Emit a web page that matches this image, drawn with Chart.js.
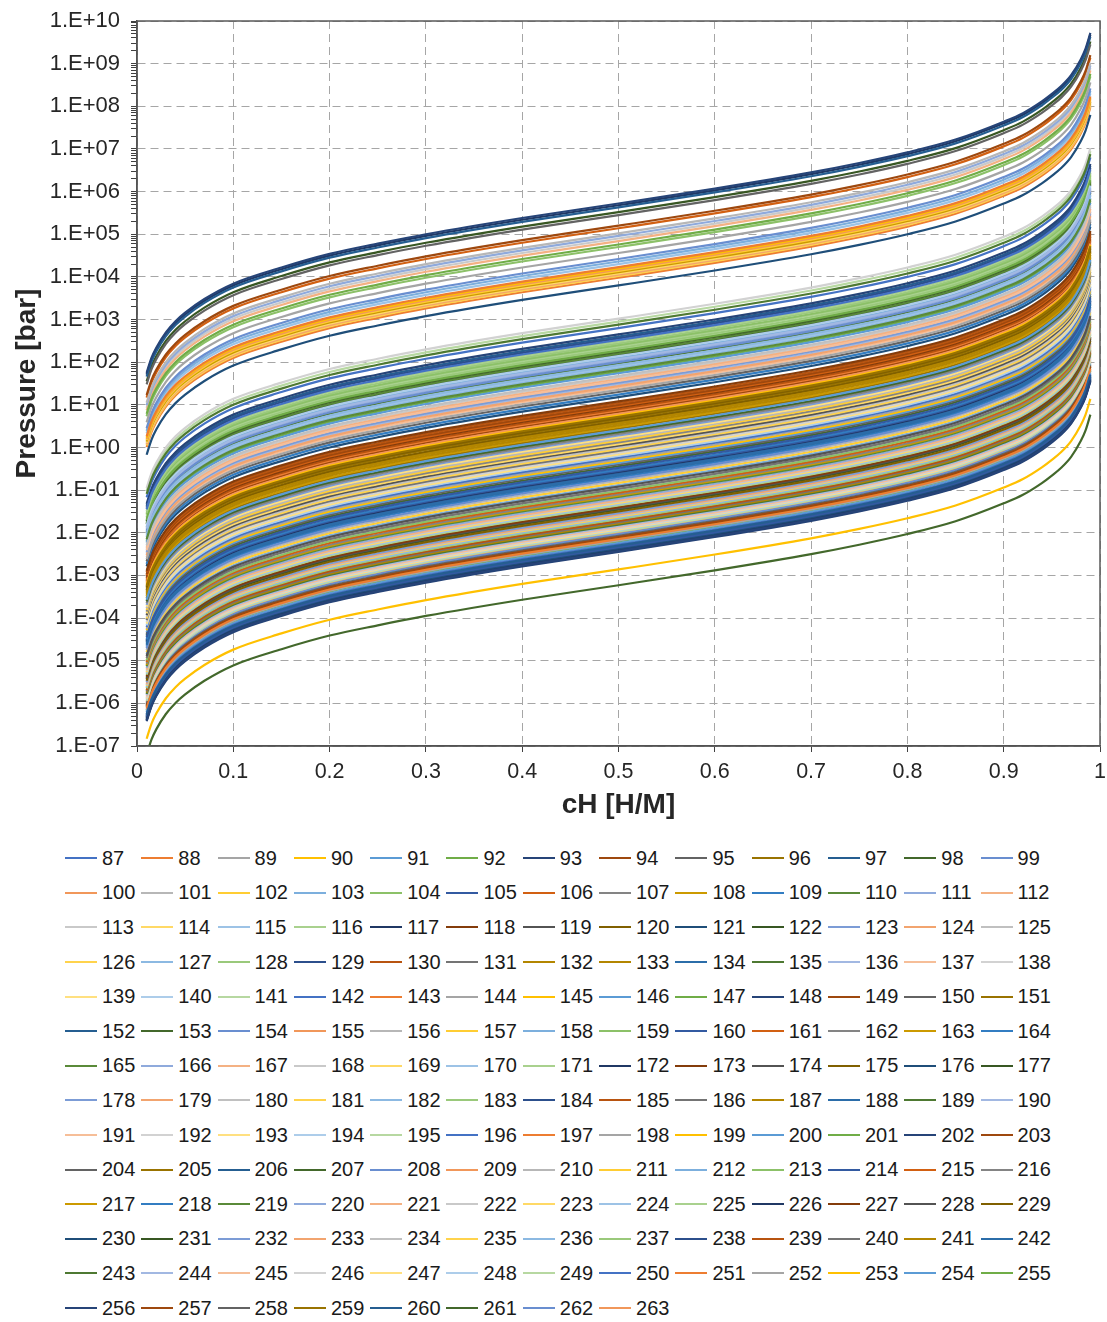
<!DOCTYPE html>
<html>
<head>
<meta charset="utf-8">
<title>PCT isotherms</title>
<script src="https://cdn.jsdelivr.net/npm/chart.js@4.4.1/dist/chart.umd.min.js"></script>
<style>
  body { margin: 0; background: #fff; font-family: "Liberation Sans", Arial, sans-serif; }
  #wrap { position: relative; width: 1107px; height: 830px; }
  #legend {
    position: absolute; left: 65px; top: 841px;
    display: grid; grid-template-columns: repeat(13, 76.3px); grid-auto-rows: 34.6px;
  }
  .item { display: flex; align-items: center; font-size: 20px; color: #1a1a1a; white-space: nowrap; }
  .item .ln { display: inline-block; width: 32px; height: 2px; margin-right: 5px; }
</style>
</head>
<body>
<div id="wrap"><canvas id="chartPCT" width="1107" height="830"></canvas></div>
<div id="legend"></div>
<script>
// hydrogen concentration where every curve is sampled
const cH = [0.01, 0.015, 0.02, 0.03, 0.04, 0.05, 0.07, 0.1, 0.15, 0.2, 0.25, 0.3, 0.4,
            0.5, 0.6, 0.7, 0.75, 0.8, 0.85, 0.9, 0.92, 0.94, 0.95, 0.96, 0.97, 0.98, 0.985, 0.99];

// shape of an isotherm: log10(P) relative to its value at cH = 0.5
const curveShape = [-3.97, -3.62, -3.38, -3.02, -2.76, -2.56, -2.24, -1.88, -1.5, -1.18, -0.94, -0.72, -0.34,
                    0, 0.35, 0.73, 0.95, 1.2, 1.5, 1.92, 2.12, 2.4, 2.57, 2.76, 3.01, 3.38, 3.63, 4.0];

// series names 87 ... 263
const seriesIds = [];
for (let n = 87; n <= 263; n++) seriesIds.push(n);

// log10 of pressure [bar] at cH = 0.5 for each series (same order as seriesIds)
const logP50 = [
   2.52,  4.23,  4.56,  4.20,  0.40,  4.76,  5.72,  5.20,  5.45,  0.72,  5.63,  0.36,  4.42,
   4.17,  5.02,  4.14,  4.36,  4.70, -0.48,  5.14,  0.32,  4.11, -0.52,  1.82,  4.96,  4.84,
   4.90,  4.08,  4.30,  2.48,  5.68,  1.08, -0.92,  0.69,  3.80,  5.52,  0.28,  4.05,  1.68,
   4.02,  1.93,  2.44,  2.56,  1.04, -0.97,  0.52,  0.56, -0.63,  2.88,  2.07,  1.56,  3.02,
   0.24,  2.14,  2.95,  2.80,  3.98,  1.35,  0.75,  1.74,  2.27,  2.65,  1.00,  1.30,  0.66,
   2.60,  2.24,  2.00,  0.78,  0.20,  0.16,  2.10,  2.40, -0.55,  0.97,  0.12,  0.48,  1.24,
   2.20,  2.04,  1.60,  1.64,  0.08,  1.90,  2.37, -0.57,  0.94,  0.04,  0.62,  1.18,  2.17,
   1.52,  1.44,  0.00, -0.04,  1.86,  2.33, -0.60,  0.90, -0.08,  0.59, -0.66,  1.97,  1.48,
   1.40, -0.12, -0.16, -0.20,  2.30, -0.24,  0.87, -0.28, -0.32, -0.36,  1.78, -2.43,  0.84,
  -0.40,  0.44, -2.30, -0.44, -0.74,  0.81, -0.78, -0.83, -0.88, -1.02, -2.34, -1.06, -1.10,
  -1.13, -0.70, -1.16, -1.20, -1.24, -1.27, -1.30, -1.33, -1.36, -2.42, -1.40, -1.43, -1.50,
  -2.38, -1.46, -1.54, -1.57, -1.60, -1.62, -1.65, -1.68, -2.36, -1.72, -1.75, -1.78, -2.32,
  -1.81, -1.84, -1.87, -1.90, -1.92, -1.94, -1.97, -2.28, -2.15, -2.18, -2.86, -2.24, -2.20,
  -2.45, -2.10, -2.07, -2.12, -2.40, -3.23, -2.03, -2.00
];

// Excel 2013 series colours: 6 accents, then darker / lighter shades
const accents = ['#4472C4', '#ED7D31', '#A5A5A5', '#FFC000', '#5B9BD5', '#70AD47'];
const shades = [[1, 0], [0.6, 0], [0.8, 0.2], [0.8, 0], [0.6, 0.4], [0.5, 0], [0.7, 0.3], [0.7, 0], [0.5, 0.5]];

function shade(hex, mod, off) {
  let r = parseInt(hex.slice(1, 3), 16) / 255, g = parseInt(hex.slice(3, 5), 16) / 255, b = parseInt(hex.slice(5, 7), 16) / 255;
  const mx = Math.max(r, g, b), mn = Math.min(r, g, b);
  let h = 0, s = 0, l = (mx + mn) / 2;
  if (mx !== mn) {
    const d = mx - mn;
    s = l > 0.5 ? d / (2 - mx - mn) : d / (mx + mn);
    if (mx === r) h = (g - b) / d + (g < b ? 6 : 0);
    else if (mx === g) h = (b - r) / d + 2;
    else h = (r - g) / d + 4;
    h /= 6;
  }
  l = Math.min(1, l * mod + off);
  const f = (p, q, t) => {
    if (t < 0) t += 1; if (t > 1) t -= 1;
    if (t < 1 / 6) return p + (q - p) * 6 * t;
    if (t < 1 / 2) return q;
    if (t < 2 / 3) return p + (q - p) * (2 / 3 - t) * 6;
    return p;
  };
  if (s === 0) { r = g = b = l; }
  else {
    const q = l < 0.5 ? l * (1 + s) : l + s - l * s, p = 2 * l - q;
    r = f(p, q, h + 1 / 3); g = f(p, q, h); b = f(p, q, h - 1 / 3);
  }
  const hx = v => Math.round(v * 255).toString(16).padStart(2, '0');
  return '#' + hx(r) + hx(g) + hx(b);
}

function seriesColor(id) {
  const i = id <= 132 ? id - 87 : id - 88;
  const sh = shades[Math.floor(i / 6) % 9];
  return shade(accents[i % 6], sh[0], sh[1]);
}

const datasets = seriesIds.map((id, k) => ({
  label: String(id),
  data: cH.map((x, i) => ({ x: x, y: Math.pow(10, logP50[k] + curveShape[i]) })),
  borderColor: seriesColor(id),
  backgroundColor: seriesColor(id),
  borderWidth: 2.2,
  pointRadius: 0,
  fill: false,
  cubicInterpolationMode: 'monotone'
}));

const isDecade = v => Math.abs(Math.log10(v) - Math.round(Math.log10(v))) < 1e-9;
const expLabel = v => {
  const e = Math.round(Math.log10(v));
  return '1.E' + (e < 0 ? '-' : '+') + String(Math.abs(e)).padStart(2, '0');
};

const plotFrame = {
  id: 'plotFrame',
  afterDatasetsDraw(chart) {
    const { ctx, chartArea: a } = chart;
    ctx.save();
    ctx.strokeStyle = '#595959';
    ctx.lineWidth = 1.5;
    ctx.strokeRect(a.left, a.top, a.right - a.left, a.bottom - a.top);
    ctx.restore();
  }
};

Chart.defaults.font.family = "'Liberation Sans', Arial, sans-serif";
Chart.defaults.color = '#262626';

const ctx = document.getElementById('chartPCT').getContext('2d');
const chart = new Chart(ctx, {
  type: 'line',
  data: { datasets: datasets },
  options: {
    responsive: false,
    animation: false,
    devicePixelRatio: 1,
    layout: { padding: { top: 21, right: 7, left: 0, bottom: 0 } },
    plugins: { legend: { display: false }, tooltip: { enabled: false } },
    scales: {
      x: {
        type: 'linear', min: 0, max: 1,
        ticks: {
          stepSize: 0.1, padding: 7, font: { size: 21.5 },
          callback: v => v === 0 ? '0' : (Math.abs(v - 1) < 1e-9 ? '1' : v.toFixed(1))
        },
        grid: { color: '#A6A6A6', lineWidth: 1, tickColor: '#404040', tickLength: 6 },
        border: { color: '#404040', width: 1.5, dash: [8, 5] },
        title: { display: true, text: 'cH [H/M]', font: { size: 28, weight: 'bold' }, padding: { top: 0, bottom: 8 } },
        afterFit: s => { s.height = 84; s.paddingRight = 0; s.paddingLeft = 0; }
      },
      y: {
        type: 'logarithmic', min: 1e-7, max: 1e10,
        afterBuildTicks: s => {
          const t = [];
          for (let e = -7; e <= 10; e++) {
            for (let m = 1; m <= 9; m++) {
              if (e === 10 && m > 1) break;
              t.push({ value: m * Math.pow(10, e) });
            }
          }
          s.ticks = t;
        },
        ticks: {
          autoSkip: false, padding: 11, font: { size: 22 },
          callback: v => isDecade(v) ? expLabel(v) : ''
        },
        grid: {
          color: c => (c.tick && isDecade(c.tick.value)) ? '#A6A6A6' : 'rgba(0,0,0,0)',
          lineWidth: 1, tickColor: '#404040', tickLength: 6
        },
        border: { color: '#404040', width: 1.5, dash: [8, 5] },
        title: { display: true, text: 'Pressure [bar]', font: { size: 28, weight: 'bold' }, padding: { top: 10, bottom: 0 } },
        afterFit: s => { s.width = 137; s.paddingTop = 0; s.paddingBottom = 0; }
      }
    }
  },
  plugins: [plotFrame]
});

// legend in Excel's fixed grid, built from the chart's datasets
const legendBox = document.getElementById('legend');
chart.data.datasets.forEach(ds => {
  const item = document.createElement('div');
  item.className = 'item';
  const ln = document.createElement('span');
  ln.className = 'ln';
  ln.style.background = ds.borderColor;
  item.appendChild(ln);
  item.appendChild(document.createTextNode(ds.label));
  legendBox.appendChild(item);
});
</script>
</body>
</html>
